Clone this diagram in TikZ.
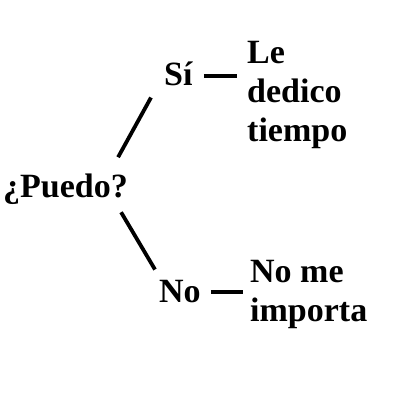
\documentclass[tikz,border=0pt]{standalone}
\usepackage{fontspec}
\setmainfont{Liberation Serif}
\usetikzlibrary{positioning}
\tikzset{
    mynode/.style = {inner sep=0pt, anchor=base west, align=left, font=\fontsize{34}{39}\selectfont\bfseries},
    edgen/.style = {line width=3.8pt, black},
}
\begin{document}
\begin{tikzpicture}[x=1pt, y=-1pt]
  \useasboundingbox (0,0) rectangle (400,400);

  \node[mynode] (puedo) at (3,197) {¿Puedo?};
  \node[mynode] (si) at (164,85) {Sí};
  \node[mynode] (no) at (159,302) {No};
  \node[mynode] (ledico) at (247,141) {Le\\dedico\\tiempo};
  \node[mynode] (nome) at (250,321) {No me\\importa};

  \draw[edgen] ([xshift=-10pt,yshift=16pt]puedo.north east) -- ([xshift=-13pt,yshift=-12pt]si.south west);
  \draw[edgen] ([xshift=-7pt,yshift=-8pt]puedo.south east) -- ([xshift=-4pt,yshift=10pt]no.north west);
  \draw[edgen, shorten <=11pt, shorten >=10pt] ([yshift=9pt]si.base east) -- ([yshift=9pt]si.base east -| ledico.west);
  \draw[edgen, shorten <=10pt, shorten >=7pt] ([yshift=10pt]no.base east) -- ([yshift=10pt]no.base east -| nome.west);
\end{tikzpicture}
\end{document}
